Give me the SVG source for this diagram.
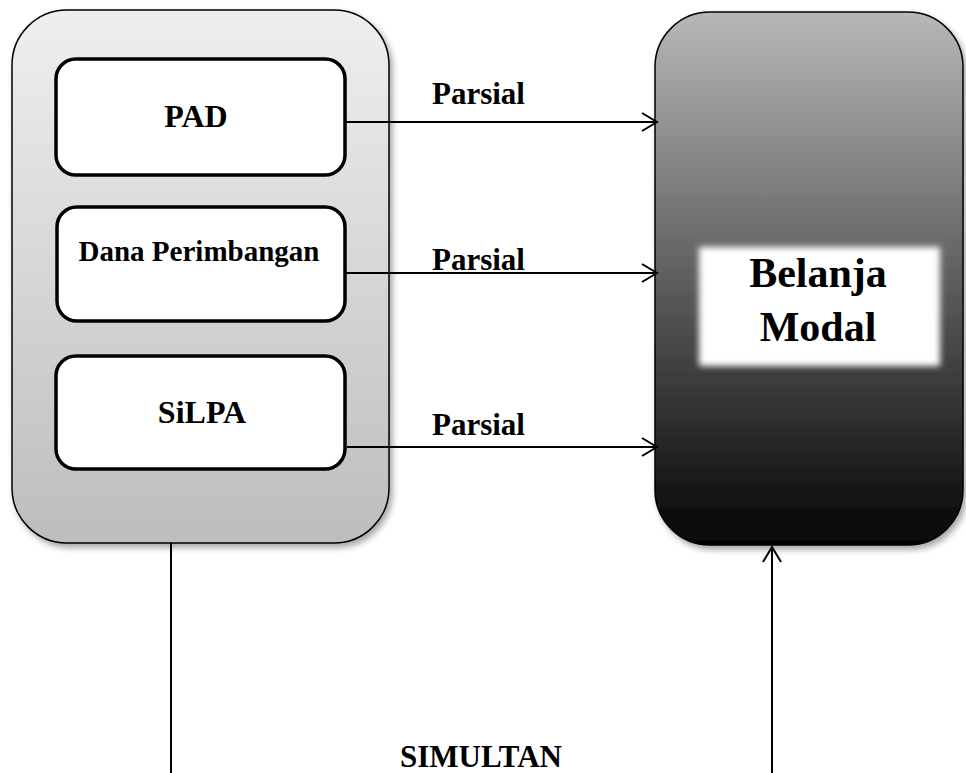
<svg xmlns="http://www.w3.org/2000/svg" width="966" height="773" viewBox="0 0 966 773">
  <style>
    .lbl { font-family: "Liberation Serif", "Times New Roman", serif; font-weight: bold; fill: #000; }
    .inner { fill: #fff; stroke: #000; stroke-width: 3.5; }
    .conn { stroke: #000; stroke-width: 2; fill: none; }
  </style>
  <defs>
    <linearGradient id="gLeft" x1="0" y1="0" x2="0" y2="1">
      <stop offset="0" stop-color="#efefef"/>
      <stop offset="1" stop-color="#bdbdbd"/>
    </linearGradient>
    <linearGradient id="gRight" x1="0" y1="0" x2="0" y2="1">
      <stop offset="0" stop-color="#b8b8b8"/>
      <stop offset="0.5" stop-color="#5e5e5e"/>
      <stop offset="1" stop-color="#050505"/>
    </linearGradient>
    <filter id="shadow" x="-10%" y="-10%" width="125%" height="125%">
      <feGaussianBlur in="SourceAlpha" stdDeviation="3"/>
      <feOffset dx="3" dy="4" result="b"/>
      <feComponentTransfer><feFuncA type="linear" slope="0.35"/></feComponentTransfer>
      <feMerge><feMergeNode/><feMergeNode in="SourceGraphic"/></feMerge>
    </filter>
    <filter id="glow" x="-20%" y="-20%" width="140%" height="140%">
      <feGaussianBlur stdDeviation="3"/>
    </filter>
    <marker id="arr" markerWidth="20" markerHeight="20" refX="16" refY="10" orient="auto" markerUnits="userSpaceOnUse">
      <path d="M1,1 L16,10 L1,19" fill="none" stroke="#000" stroke-width="2"/>
    </marker>
  </defs>

  <rect width="966" height="773" fill="#fff"/>

  <g id="container-left">
    <rect x="12" y="10" width="377" height="533" rx="55" ry="55" fill="url(#gLeft)" stroke="#000" stroke-width="1.5" filter="url(#shadow)"/>
  </g>

  <g id="belanja-modal">
    <rect x="655" y="12" width="308" height="533" rx="55" ry="55" fill="url(#gRight)" stroke="#000" stroke-width="1.5" filter="url(#shadow)"/>
    <rect x="699" y="247" width="241" height="119" fill="#fff" filter="url(#glow)"/>
    <text class="lbl" x="818" y="287" font-size="42" text-anchor="middle">Belanja</text>
    <text class="lbl" x="818" y="341" font-size="42" text-anchor="middle">Modal</text>
  </g>

  <g id="pad">
    <rect class="inner" x="56" y="59" width="289" height="116" rx="20" ry="20"/>
    <text class="lbl" x="196" y="127" font-size="32" text-anchor="middle">PAD</text>
  </g>

  <g id="dana-perimbangan">
    <rect class="inner" x="57" y="207" width="288" height="114" rx="20" ry="20"/>
    <text class="lbl" x="199" y="261" font-size="29" text-anchor="middle">Dana Perimbangan</text>
  </g>

  <g id="silpa">
    <rect class="inner" x="56" y="356" width="289" height="113" rx="20" ry="20"/>
    <text class="lbl" x="202" y="423" font-size="32" text-anchor="middle">SiLPA</text>
  </g>

  <g id="connectors">
    <line class="conn" x1="345" y1="122" x2="657" y2="122" marker-end="url(#arr)"/>
    <line class="conn" x1="345" y1="273" x2="657" y2="273" marker-end="url(#arr)"/>
    <line class="conn" x1="347" y1="447" x2="657" y2="447" marker-end="url(#arr)"/>
    <line class="conn" x1="171" y1="543" x2="171" y2="773"/>
    <line class="conn" x1="772" y1="773" x2="772" y2="547" marker-end="url(#arr)"/>
    <text class="lbl" x="432" y="104" font-size="31">Parsial</text>
    <text class="lbl" x="432" y="270" font-size="31">Parsial</text>
    <text class="lbl" x="432" y="435" font-size="31">Parsial</text>
    <text class="lbl" x="481" y="767" font-size="31" text-anchor="middle">SIMULTAN</text>
  </g>
</svg>
